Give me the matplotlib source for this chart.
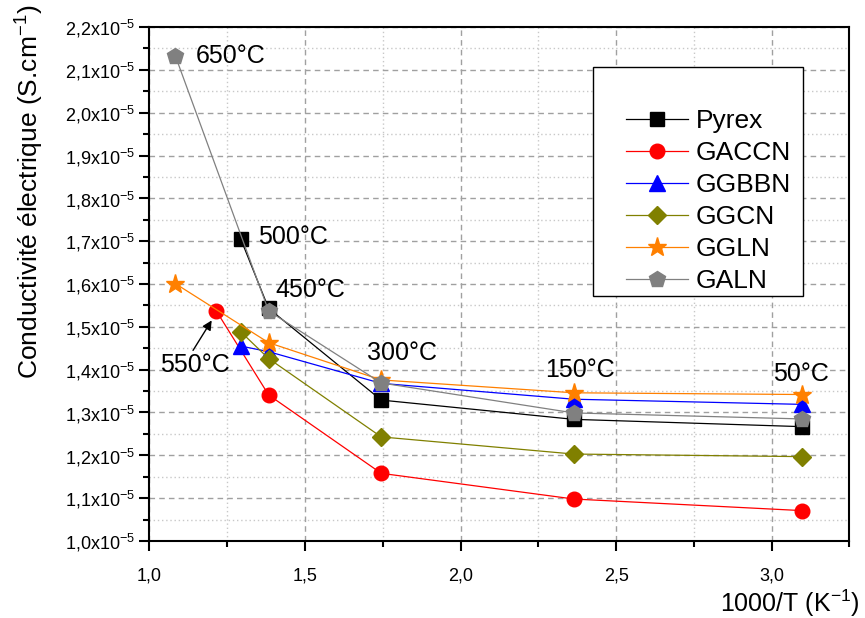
import matplotlib
matplotlib.use('Agg')
import matplotlib.pyplot as plt
from matplotlib.ticker import MultipleLocator, FuncFormatter
from matplotlib.patches import Rectangle

plt.rcParams['font.family'] = ['Liberation Sans', 'DejaVu Sans']
plt.rcParams['mathtext.fontset'] = 'custom'
plt.rcParams['mathtext.rm'] = 'Liberation Sans'
plt.rcParams['mathtext.it'] = 'Liberation Sans:italic'
plt.rcParams['mathtext.bf'] = 'Liberation Sans:bold'
plt.rcParams['mathtext.default'] = 'regular'

# 1000/T for each temperature (650, 550, 500, 450, 300, 150, 50 °C)
x_pyrex = [1.294, 1.383, 1.745, 2.364, 3.096]
y_pyrex = [1.704e-5, 1.543e-5, 1.329e-5, 1.284e-5, 1.267e-5]

x_gaccn = [1.215, 1.383, 1.745, 2.364, 3.096]
y_gaccn = [1.537e-5, 1.341e-5, 1.158e-5, 1.098e-5, 1.071e-5]

x_ggbbn = [1.294, 1.383, 1.745, 2.364, 3.096]
y_ggbbn = [1.455e-5, 1.442e-5, 1.368e-5, 1.331e-5, 1.319e-5]

x_ggcn = [1.294, 1.383, 1.745, 2.364, 3.096]
y_ggcn = [1.488e-5, 1.426e-5, 1.243e-5, 1.203e-5, 1.197e-5]

x_ggln = [1.083, 1.383, 1.745, 2.364, 3.096]
y_ggln = [1.601e-5, 1.463e-5, 1.376e-5, 1.346e-5, 1.342e-5]

x_galn = [1.083, 1.383, 1.745, 2.364, 3.096]
y_galn = [2.133e-5, 1.537e-5, 1.369e-5, 1.299e-5, 1.285e-5]

# temperature labels: text, x, y
temp_labels = ['650°C', '500°C', '450°C', '300°C', '150°C', '50°C']
temp_x = [1.15, 1.35, 1.405, 1.70, 2.385, 3.095]
temp_y = [2.133e-5, 1.71e-5, 1.585e-5, 1.44e-5, 1.40e-5, 1.39e-5]
temp_ha = ['left', 'left', 'left', 'left', 'center', 'center']

fig = plt.figure(figsize=(8.65, 6.18), dpi=100)
ax = fig.add_axes([0.1728, 0.1246, 0.8092, 0.8317])

lw = 0.9
ax.plot(x_pyrex, y_pyrex, '-', color='black', lw=lw, marker='s', ms=9.5, label='Pyrex', zorder=3)
ax.plot(x_gaccn, y_gaccn, '-', color='red', lw=lw, marker='o', ms=10.5, label='GACCN', zorder=3)
ax.plot(x_ggbbn, y_ggbbn, '-', color='blue', lw=lw, marker='^', ms=11.5, label='GGBBN', zorder=3)
ax.plot(x_ggcn, y_ggcn, '-', color='#808000', lw=lw, marker='D', ms=9, label='GGCN', zorder=3)
ax.plot(x_ggln, y_ggln, '-', color='#FF8000', lw=lw, marker='*', ms=14, label='GGLN', zorder=3)
ax.plot(x_galn, y_galn, '-', color='#808080', lw=lw, marker='p', ms=12, label='GALN', zorder=3)

for t, tx, ty, h in zip(temp_labels, temp_x, temp_y, temp_ha):
    ax.text(tx, ty, t, fontsize=18, ha=h, va='center', zorder=4)

ax.text(1.034, 1.41e-5, '550°C', fontsize=18, ha='left', va='center', zorder=4)
ax.annotate('', xy=(1.2, 1.515e-5), xytext=(1.14, 1.445e-5),
            arrowprops=dict(arrowstyle='-|>', color='black', lw=1, shrinkA=0, shrinkB=0,
                            mutation_scale=14))

ax.set_xlim(1.0, 3.25)
ax.set_ylim(1.0e-5, 2.2e-5)

ax.xaxis.set_major_locator(MultipleLocator(0.5))
ax.xaxis.set_minor_locator(MultipleLocator(0.25))
ax.yaxis.set_major_locator(MultipleLocator(0.1e-5))
ax.yaxis.set_minor_locator(MultipleLocator(0.05e-5))

ax.xaxis.set_major_formatter(FuncFormatter(lambda v, p: ('%.1f' % v).replace('.', ',')))
ax.yaxis.set_major_formatter(FuncFormatter(
    lambda v, p: ('%.1f' % (v * 1e5)).replace('.', ',') + 'x10$^{-5}$'))

ax.grid(which='major', linestyle=(0, (4, 3)), color='#a0a0a0', lw=1)
ax.grid(which='minor', linestyle=(0, (1, 2)), color='#c8c8c8', lw=1)
ax.set_axisbelow(True)

ax.tick_params(which='major', direction='out', length=7, width=1.5, labelsize=13,
               top=False, right=False)
ax.tick_params(which='minor', direction='out', length=4, width=1.5, top=False, right=False)
ax.tick_params(axis='x', which='major', pad=12)
for s in ax.spines.values():
    s.set_linewidth(1.5)

ax.set_xlabel('1000/T (K$^{-1}$)', fontsize=18, ha='right', va='center')
ax.xaxis.set_label_coords(1.015, -0.121)
ax.set_ylabel('Conductivité électrique (S.cm$^{-1}$)', fontsize=19, ha='center', va='center')
ax.yaxis.set_label_coords(-0.171, 0.679)

# legend frame drawn separately (Origin-like padding)
frame = Rectangle((0.633, 0.477), 0.301, 0.4446, transform=ax.transAxes,
                  facecolor='white', edgecolor='black', lw=1.0, zorder=5)
ax.add_patch(frame)
leg = ax.legend(loc='upper left', bbox_to_anchor=(0.681, 0.84), fontsize=19,
                frameon=False, handlelength=2.35, handletextpad=0.3,
                labelspacing=0.30, borderpad=0, borderaxespad=0)
leg.set_zorder(6)

fig.savefig('out.png', dpi=100)
